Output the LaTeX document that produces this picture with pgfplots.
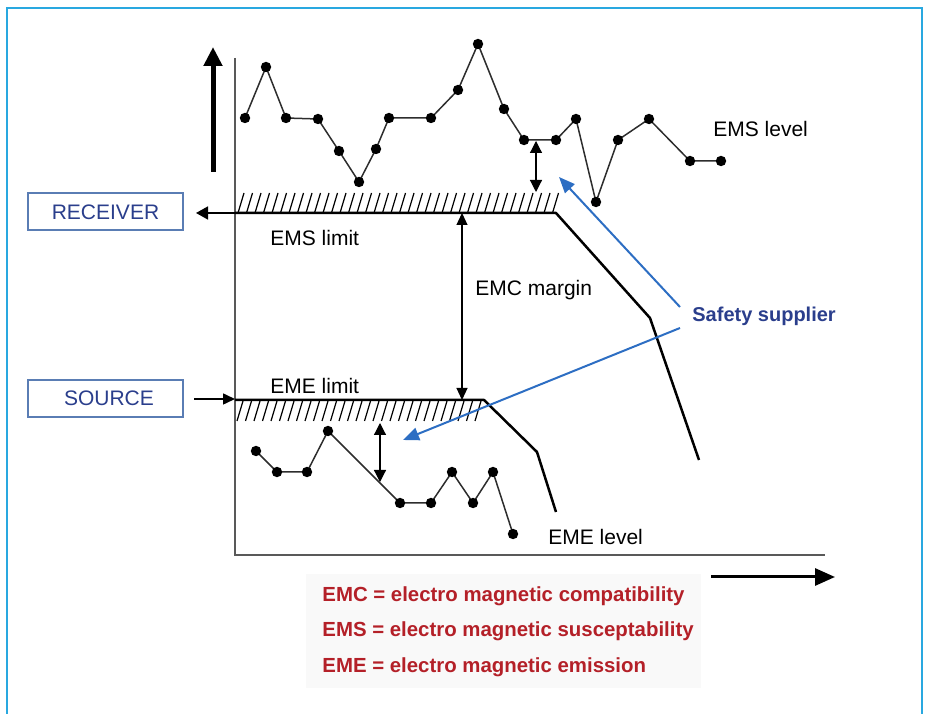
\documentclass[border=0pt]{standalone}
\usepackage{pgfplots}
\pgfplotsset{compat=1.18}
\usepackage{fontspec}
\setmainfont{Liberation Sans}
\usetikzlibrary{arrows.meta}

\definecolor{frameblue}{RGB}{41,168,224}
\definecolor{boxtext}{RGB}{42,62,140}
\definecolor{boxline}{RGB}{90,125,180}
\definecolor{arrowblue}{RGB}{45,110,195}
\definecolor{legred}{RGB}{180,32,40}
\definecolor{dotline}{RGB}{45,45,45}

\newcommand{\lab}{\fontsize{10.5}{12}\selectfont}
\newcommand{\legfont}{\fontsize{10.2}{12}\selectfont\bfseries}

\begin{document}
\begin{tikzpicture}
\begin{axis}[
  scale only axis, width=463.5pt, height=357pt,
  xmin=0, xmax=927, ymin=0, ymax=714, y dir=reverse,
  hide axis, clip=false,
]
\path (0,0) rectangle (927,714);
% outer frame
\draw[frameblue, line width=1pt] (7,714) -- (7,8) -- (922,8) -- (922,714);
% faint block behind the definitions
\fill[black!2.5] (306,574) rectangle (701,688);

% axes
\draw[black!65, line width=1pt] (235,58) -- (235,555) -- (825,555);
\draw[line width=2.5pt, -{Triangle[length=9.5pt,width=9pt]}] (213,172) -- (213,47);
\draw[line width=1.5pt, -{Triangle[length=10pt,width=8.5pt]}] (711,577) -- (835,577);

% hatching above EMS limit and below EME limit
\pgfplotsinvokeforeach{0,...,37}{
  \draw[line width=0.6pt] ({238+8.5*#1},213) -- ({244+8.5*#1},193);
}
\pgfplotsinvokeforeach{0,...,28}{
  \draw[line width=0.6pt] ({237+8.5*#1},421) -- ({243+8.5*#1},401);
}

% limits
\addplot[black, line width=1.25pt, no markers, line join=round]
  coordinates {(235,213)(556,213)(650,318)(699,460)};
\addplot[black, line width=1.25pt, no markers, line join=round]
  coordinates {(235,400)(484,400)(537,452)(556,512)};

% EMS level
\addplot[dotline, line width=0.75pt, mark=*, mark size=2.2pt,
  mark options={black}]
  coordinates {(245,118)(266,67)(286,118)(318,119)(339,151)(359,182)
    (376,149)(389,118)(431,118)(458,90)(478,44)(504,109)(524,140)
    (556,140)(576,119)(596,202)(618,140)(649,119)(690,161)(721,161)};

% EME level
\addplot[dotline, line width=0.75pt, mark=*, mark size=2.2pt,
  mark options={black}]
  coordinates {(256,451)(277,472)(307,472)(328,431)(400,503)(431,503)
    (452,472)(473,503)(493,472)(513,534)};

% margins
\draw[line width=0.6pt, {Triangle[length=6pt,width=5.5pt]}-{Triangle[length=6pt,width=5.5pt]}]
  (462,213) -- (462,400);
\draw[line width=0.6pt, {Triangle[length=6pt,width=6pt]}-{Triangle[length=6pt,width=6pt]}]
  (536,141) -- (536,192);
\draw[line width=0.6pt, {Triangle[length=6pt,width=6pt]}-{Triangle[length=6pt,width=6pt]}]
  (380,423) -- (380,482);

% receiver / source
\draw[line width=0.8pt, -{Triangle[length=6pt,width=6.5pt]}] (235,213) -- (196,213);
\draw[line width=0.8pt, -{Triangle[length=6pt,width=5.5pt]}] (194,399) -- (235,399);
\draw[boxline, line width=0.75pt, fill=white] (28,193) rectangle (183,230);
\node[boxtext, font=\lab] at (105.5,212) {RECEIVER};
\draw[boxline, line width=0.75pt, fill=white] (28,380) rectangle (183,417);
\node[boxtext, font=\lab] at (109,398) {SOURCE};

% safety supplier arrows
\draw[arrowblue, line width=1pt, -{Triangle[length=8pt,width=6.5pt]}] (680,307) -- (559,177);
\draw[arrowblue, line width=1pt, -{Triangle[length=8pt,width=6.5pt]}] (680,328) -- (403,440);
\node[anchor=west, inner sep=0pt, text=boxtext, font=\fontsize{10}{12}\selectfont\bfseries] at (692,316) {Safety supplier};

% labels
\node[anchor=west, inner sep=0pt, font=\lab] at (713,129) {EMS level};
\node[anchor=west, inner sep=0pt, font=\lab] at (270,238) {EMS limit};
\node[anchor=west, inner sep=0pt, font=\lab] at (270,386) {EME limit};
\node[anchor=west, inner sep=0pt, font=\lab] at (475,290) {EMC margin};
\node[anchor=west, inner sep=0pt, font=\lab] at (548,537) {EME level};

% definitions
\node[anchor=west, inner sep=0pt, text=legred, font=\legfont] at (322,596) {EMC = electro magnetic compatibility};
\node[anchor=west, inner sep=0pt, text=legred, font=\legfont] at (322,631) {EMS = electro magnetic susceptability};
\node[anchor=west, inner sep=0pt, text=legred, font=\legfont] at (322,667) {EME = electro magnetic emission};
\end{axis}
\end{tikzpicture}
\end{document}
